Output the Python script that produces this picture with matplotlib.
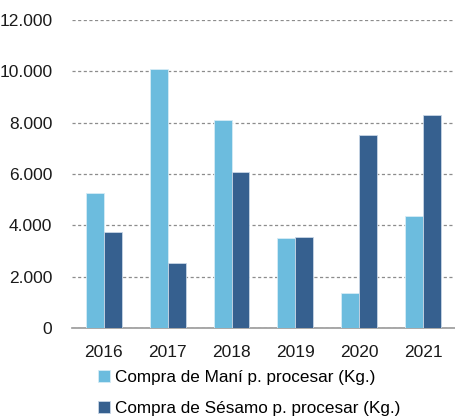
import numpy as np
import matplotlib
matplotlib.use("Agg")
import matplotlib.pyplot as plt
from matplotlib.ticker import FuncFormatter

years = ["2016", "2017", "2018", "2019", "2020", "2021"]
mani = [5260, 10090, 8100, 3510, 1360, 4360]
sesamo = [3740, 2530, 6080, 3550, 7520, 8300]
labels = ["Compra de Maní p. procesar (Kg.)", "Compra de Sésamo p. procesar (Kg.)"]

plt.rcParams['font.family'] = ['Liberation Sans', 'DejaVu Sans']

fig = plt.figure(figsize=(4.55, 4.18), dpi=100)
ax = fig.add_axes([0.158, 0.215, 0.842, 0.737])

x = np.arange(len(years))
w = 0.28
b1 = ax.bar(x - w / 2, mani, w, color="#6cbcde", edgecolor="#d6ecf6", linewidth=0.6, label=labels[0], zorder=3)
b2 = ax.bar(x + w / 2, sesamo, w, color="#36608f", edgecolor="#c8d6e6", linewidth=0.6, label=labels[1], zorder=3)

ax.set_ylim(0, 12000)
ax.set_xlim(-0.5, len(years) - 0.5)
ax.set_yticks(np.arange(0, 12001, 2000))
ax.yaxis.set_major_formatter(FuncFormatter(lambda v, p: f"{int(v):,}".replace(",", ".")))
ax.set_xticks(x)
ax.set_xticklabels(years)
ax.grid(axis="y", color="#8c8c8c", linestyle=(0, (2.5, 2)), linewidth=0.9, zorder=0)
for s in ["top", "right", "left"]:
    ax.spines[s].set_visible(False)
ax.spines["bottom"].set_color("#999999")
ax.spines["bottom"].set_linewidth(1.2)
ax.tick_params(axis="both", length=0, labelsize=12.5, colors="#1a1a1a")
ax.tick_params(axis="x", pad=12)
ax.tick_params(axis="y", pad=14)

ax.legend(loc="upper left", bbox_to_anchor=(0.05, -0.115), frameon=False, fontsize=12.3,
          handlelength=0.7, handleheight=0.7, handletextpad=0.3, labelspacing=0.9,
          borderaxespad=0)

fig.savefig("out.png", dpi=100)
